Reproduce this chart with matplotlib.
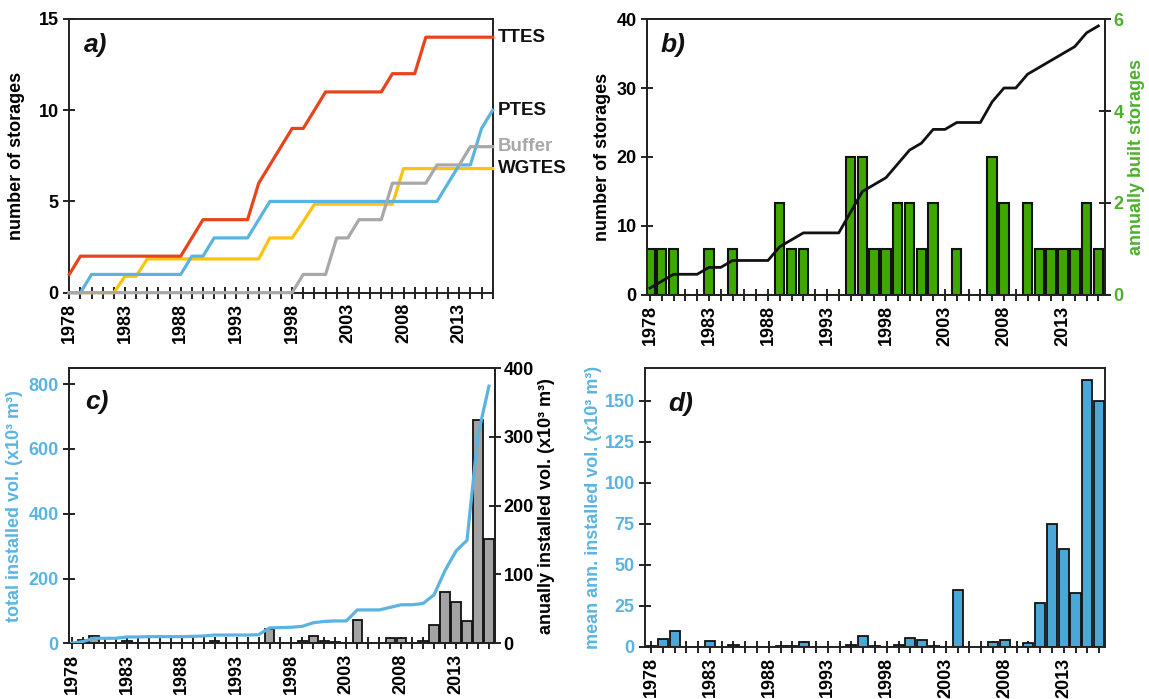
import numpy as np
import matplotlib
matplotlib.use('Agg')
import matplotlib.pyplot as plt

plt.rcParams['font.family'] = ['Liberation Sans Narrow', 'Liberation Sans', 'DejaVu Sans']
plt.rcParams['font.weight'] = 'bold'

# ---- data ----
years = list(range(1978, 2017))

# a) cumulative number of storages per type
ttes = [1, 2, 2, 2, 2, 2, 2, 2, 2, 2, 2, 3, 4, 4, 4, 4, 4, 6, 7, 8,
        9, 9, 10, 11, 11, 11, 11, 11, 11, 12, 12, 12, 14, 14, 14, 14, 14, 14, 14]
ptes = [0, 0, 1, 1, 1, 1, 1, 1, 1, 1, 1, 2, 2, 3, 3, 3, 3, 4, 5, 5,
        5, 5, 5, 5, 5, 5, 5, 5, 5, 5, 5, 5, 5, 5, 6, 7, 7, 9, 10]
buffer = [0, 0, 0, 0, 0, 0, 0, 0, 0, 0, 0, 0, 0, 0, 0, 0, 0, 0, 0, 0,
          0, 1, 1, 1, 3, 3, 4, 4, 4, 6, 6, 6, 6, 7, 7, 7, 8, 8, 8]
wgtes = [0, 0, 0, 0, 0, 0.9, 0.9, 1.85, 1.85, 1.85, 1.85, 1.85, 1.85, 1.85, 1.85, 1.85, 1.85, 1.85, 3, 3,
         3, 3.9, 4.85, 4.85, 4.85, 4.85, 4.85, 4.85, 4.85, 4.85, 6.8, 6.8, 6.8, 6.8, 6.8, 6.8, 6.8, 6.8, 6.8]
series_names = ['TTES', 'PTES', 'Buffer', 'WGTES']
series_end = [14, 10, 8, 6.8]

# b) annually built storages
built = [1, 1, 1, 0, 0, 1, 0, 1, 0, 0, 0, 2, 1, 1, 0, 0, 0, 3, 3, 1,
         1, 2, 2, 1, 2, 0, 1, 0, 0, 3, 2, 0, 2, 1, 1, 1, 1, 2, 1]

# c) annually installed volume (x10^3 m^3)
annual_vol = [0.5, 5, 10, 0, 0, 4, 0, 1, 0, 0, 0, 1, 1, 3, 0, 0, 0, 1, 21, 1,
              1, 3, 11, 4, 1.5, 0, 34, 0, 0, 8, 8, 0, 4, 27, 75, 60, 33, 325, 151]

# d) mean annual installed volume (x10^3 m^3)
mean_vol = [0.5, 5, 10, 0, 0, 3.5, 0, 1, 0, 0, 0, 0.5, 0.5, 3, 0, 0, 0, 1, 7, 0.8,
            0.3, 1.5, 5.5, 4, 0.8, 0, 35, 0, 0, 3, 4, 0, 2.5, 27, 75, 60, 33, 163, 150]

# ---- styling ----
RED = '#E8441C'
BLUE = '#5AB4E2'
GRAY = '#A8A8A8'
YELLOW = '#FFC20E'
GREEN = '#3FA800'
GREEN_TXT = '#4DB02C'
BAR_GRAY = '#A3A3A3'
BAR_BLUE = '#4AA8D8'
DARK = '#222222'
TICK_FS = 13
LABEL_FS = 13


def style_axis(ax, xlim):
    for s in ax.spines.values():
        s.set_color(DARK)
        s.set_linewidth(1.4)
    ax.set_xlim(*xlim)
    ax.set_xticks(years)
    ax.set_xticklabels([str(y) if (y - 1978) % 5 == 0 else '' for y in years],
                       rotation=90, fontsize=TICK_FS, fontweight='bold')
    ax.tick_params(direction='inout', length=8, width=1.4, color=DARK, labelsize=TICK_FS)


def style_twin(ax2):
    for s in ax2.spines.values():
        s.set_color(DARK)
        s.set_linewidth(1.4)


def panel_label(ax, text, x, y):
    ax.text(x, y, text, transform=ax.transAxes, fontsize=19, fontweight='bold',
            fontstyle='italic', family=['Liberation Sans', 'DejaVu Sans'],
            ha='left', va='center', color='#111111')


fig = plt.figure(figsize=(11.49, 6.99), dpi=100)

# a) storages per type
ax = fig.add_axes([0.0603, 0.5813, 0.3685, 0.3916])
ax.plot(years, wgtes, color=YELLOW, lw=2.3, clip_on=False, zorder=3)
ax.plot(years, ptes, color=BLUE, lw=2.3, clip_on=False, zorder=4)
ax.plot(years, buffer, color=GRAY, lw=2.3, clip_on=False, zorder=5)
ax.plot(years, ttes, color=RED, lw=2.3, clip_on=False, zorder=6)
style_axis(ax, (1978, 2016))
ax.set_ylim(0, 15)
ax.set_yticks([0, 5, 10, 15])
ax.tick_params(axis='y', right=False)
ax.set_ylabel('number of storages', fontsize=LABEL_FS, fontweight='bold', labelpad=10)
for name, val in zip(series_names, series_end):
    ax.text(1.012, val, name, transform=ax.get_yaxis_transform(), fontsize=13.5,
            fontweight='bold', va='center', ha='left',
            color=GRAY if name == 'Buffer' else '#111111')
panel_label(ax, 'a)', 0.035, 0.905)

# b) number of storages + annually built
ax = fig.add_axes([0.5631, 0.5780, 0.3986, 0.3948])
ax2 = ax.twinx()
ax2.bar(years, built, width=0.8, color=GREEN, edgecolor='#111111', linewidth=1.5, zorder=2)
ax2.set_ylim(0, 6)
ax2.set_yticks([0, 2, 4, 6])
ax2.tick_params(direction='inout', length=8, width=1.4, color=DARK, labelsize=TICK_FS,
                labelcolor=GREEN_TXT, pad=2)
ax2.set_ylabel('annually built storages', fontsize=LABEL_FS, fontweight='bold',
               color=GREEN_TXT, labelpad=3)
ax2.plot(years, np.cumsum(built) * 6 / 40.0, color='#111111', lw=2.0, zorder=3)
style_axis(ax, (1977.75, 2016.56))
ax.set_ylim(0, 40)
ax.set_yticks([0, 10, 20, 30, 40])
ax.set_ylabel('number of storages', fontsize=LABEL_FS, fontweight='bold', labelpad=4)
style_twin(ax2)
panel_label(ax, 'b)', 0.03, 0.905)

# c) total and annually installed volume
ax = fig.add_axes([0.0601, 0.0797, 0.3708, 0.3938])
ax2 = ax.twinx()
ax2.bar(years, annual_vol, width=0.85, color=BAR_GRAY, edgecolor='#111111', linewidth=1.3, zorder=2)
ax2.set_ylim(0, 400)
ax2.set_yticks([0, 100, 200, 300, 400])
ax2.tick_params(direction='inout', length=8, width=1.4, color=DARK, labelsize=TICK_FS, pad=2)
ax2.set_ylabel('anually installed vol. (x10\u00b3 m\u00b3)', fontsize=LABEL_FS,
               fontweight='bold', labelpad=3)
ax2.plot(years, np.cumsum(annual_vol) * 400 / 850.0, color=BLUE, lw=2.3, zorder=3)
style_axis(ax, (1977.73, 2016.56))
ax.set_ylim(0, 850)
ax.set_yticks([0, 200, 400, 600, 800])
ax.tick_params(axis='y', labelcolor=BLUE)
ax.set_ylabel('total installed vol. (x10\u00b3 m\u00b3)', fontsize=LABEL_FS,
              fontweight='bold', color=BLUE, labelpad=4)
style_twin(ax2)
panel_label(ax, 'c)', 0.038, 0.876)

# d) mean annual installed volume
ax = fig.add_axes([0.5614, 0.0744, 0.4003, 0.3991])
ax.bar(years, mean_vol, width=0.85, color=BAR_BLUE, edgecolor='#111111', linewidth=1.3, zorder=2)
style_axis(ax, (1977.5, 2016.5))
ax.set_ylim(0, 170)
ax.set_yticks([0, 25, 50, 75, 100, 125, 150])
ax.tick_params(axis='y', labelcolor=BLUE)
ax.set_ylabel('mean ann. installed vol. (x10\u00b3 m\u00b3)', fontsize=LABEL_FS,
              fontweight='bold', color=BLUE, labelpad=2)
panel_label(ax, 'd)', 0.05, 0.87)

fig.savefig('out.png', dpi=100)
